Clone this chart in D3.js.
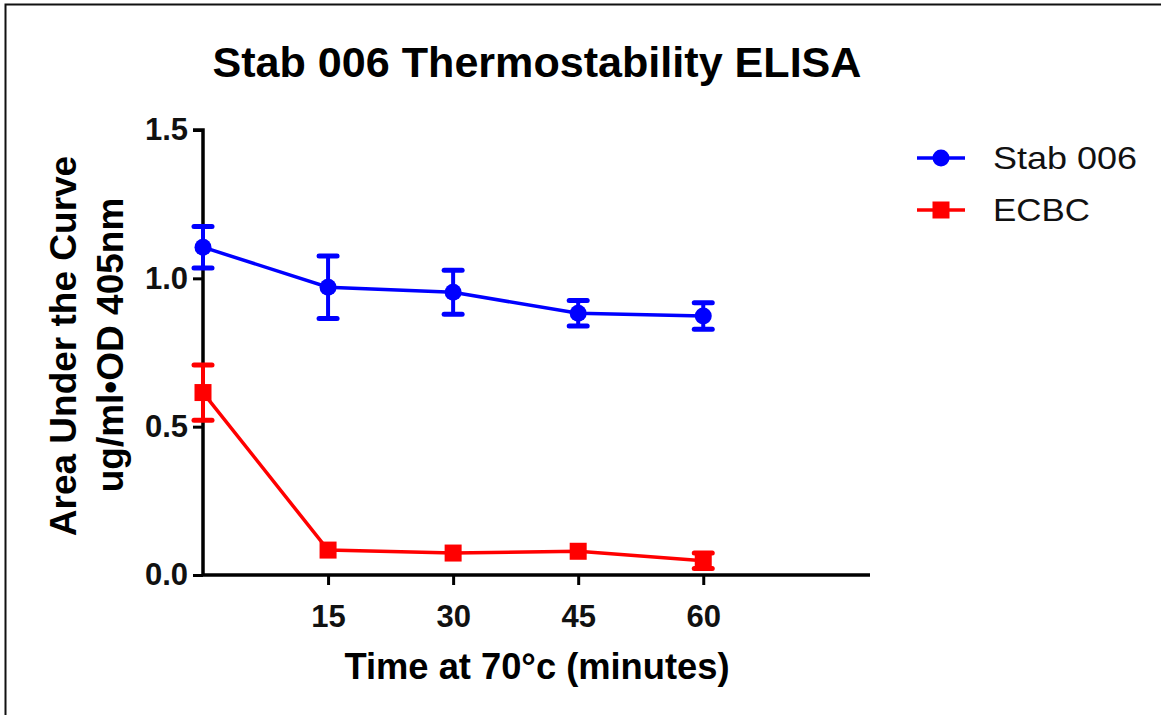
<!DOCTYPE html>
<html>
<head>
<meta charset="utf-8">
<script src="https://cdn.jsdelivr.net/npm/d3@7"></script>
<style>
  html, body { margin: 0; padding: 0; background: #fff; }
  svg { display: block; font-family: "Liberation Sans", Arial, sans-serif; }
</style>
</head>
<body>
<svg id="chart" width="1161" height="715"></svg>
<script>
// Incubation times (minutes at 70 °C)
const times = [0, 15, 30, 45, 60];
const xTicks = [15, 30, 45, 60];
const yTicks = [0, 0.5, 1.0, 1.5];

// Mean area under the curve and error (± SEM) per series
const stabMean = [1.105, 0.970, 0.953, 0.882, 0.873];
const stabErr  = [0.070, 0.105, 0.074, 0.043, 0.045];
const ecbcMean = [0.615, 0.084, 0.074, 0.080, 0.048];
const ecbcErr  = [0.093, 0.000, 0.000, 0.000, 0.026];

const seriesNames = ["Stab 006", "ECBC"];
const seriesColors = ["#0000ff", "#ff0000"];

const svg = d3.select("#chart");

// outer frame
svg.append("rect")
  .attr("x", 5.5).attr("y", 4.5)
  .attr("width", 1200).attr("height", 800)
  .attr("fill", "none").attr("stroke", "#111").attr("stroke-width", 2);

const x = d3.scaleLinear().domain([0, 80]).range([203, 870]);
const y = d3.scaleLinear().domain([0, 1.5]).range([575, 130]);

// title
svg.append("text")
  .attr("x", 537).attr("y", 77)
  .attr("text-anchor", "middle")
  .attr("font-weight", "bold").attr("font-size", 42)
  .attr("textLength", 649).attr("lengthAdjust", "spacingAndGlyphs")
  .text("Stab 006 Thermostability ELISA");

// y axis
const yAxis = svg.append("g")
  .attr("transform", `translate(${x(0)},0)`)
  .call(d3.axisLeft(y).tickValues(yTicks).tickFormat(d3.format(".1f")).tickSize(10).tickPadding(5));
yAxis.select(".domain").attr("stroke-width", 3.5).attr("d", `M-10,${y(1.5)}H0V${y(0)}`);
yAxis.selectAll(".tick line").attr("stroke-width", 3);
yAxis.selectAll(".tick text")
  .attr("font-size", 31).attr("font-weight", "bold").attr("fill", "#111")
  .attr("font-family", "Liberation Sans, Arial, sans-serif");

// x axis
const xAxis = svg.append("g")
  .attr("transform", `translate(0,${y(0)})`)
  .call(d3.axisBottom(x).tickValues(xTicks).tickSize(10).tickPadding(20));
xAxis.select(".domain").attr("stroke-width", 3.5).attr("d", `M${x(0)},0H${x(80)}`);
xAxis.selectAll(".tick line").attr("stroke-width", 3);
xAxis.selectAll(".tick text")
  .attr("font-size", 31).attr("font-weight", "bold").attr("fill", "#111")
  .attr("font-family", "Liberation Sans, Arial, sans-serif");

// axis titles
svg.append("text")
  .attr("transform", "translate(76,346) rotate(-90)")
  .attr("text-anchor", "middle")
  .attr("font-weight", "bold").attr("font-size", 37)
  .text("Area Under the Curve");
svg.append("text")
  .attr("transform", "translate(123,345) rotate(-90)")
  .attr("text-anchor", "middle")
  .attr("font-weight", "bold").attr("font-size", 37)
  .text("ug/ml\u2022OD 405nm");
svg.append("text")
  .attr("x", 537).attr("y", 679)
  .attr("text-anchor", "middle")
  .attr("font-weight", "bold").attr("font-size", 37)
  .attr("textLength", 385).attr("lengthAdjust", "spacingAndGlyphs")
  .text("Time at 70\u00b0c (minutes)");

const series = [
  { name: seriesNames[0], color: seriesColors[0], mean: stabMean, err: stabErr, shape: "circle", width: 144 },
  { name: seriesNames[1], color: seriesColors[1], mean: ecbcMean, err: ecbcErr, shape: "square", width: 97 }
];

const line = d3.line().x(d => x(d.t)).y(d => y(d.m));

function drawMarker(g, shape, cx, cy, color) {
  if (shape === "circle") {
    g.append("circle").attr("cx", cx).attr("cy", cy).attr("r", 8.5).attr("fill", color);
  } else {
    g.append("rect").attr("x", cx - 8.5).attr("y", cy - 8.5)
      .attr("width", 17).attr("height", 17).attr("fill", color);
  }
}

series.forEach(s => {
  const pts = times.map((t, i) => ({ t, m: s.mean[i], e: s.err[i] }));
  const g = svg.append("g");
  g.append("path").datum(pts).attr("d", line)
    .attr("fill", "none").attr("stroke", s.color).attr("stroke-width", 3.5);
  // error bars
  pts.filter(p => p.e > 0).forEach(p => {
    const cx = x(p.t);
    g.append("line").attr("x1", cx).attr("x2", cx)
      .attr("y1", y(p.m + p.e)).attr("y2", y(p.m - p.e))
      .attr("stroke", s.color).attr("stroke-width", 4);
    [p.m + p.e, p.m - p.e].forEach(v => {
      g.append("line").attr("x1", cx - 9).attr("x2", cx + 9)
        .attr("y1", y(v)).attr("y2", y(v))
        .attr("stroke", s.color).attr("stroke-width", 5).attr("stroke-linecap", "round");
    });
  });
  pts.forEach(p => drawMarker(g, s.shape, x(p.t), y(p.m), s.color));
});

// legend
const legend = svg.append("g");
series.forEach((s, i) => {
  const ly = 158 + i * 52;
  legend.append("line").attr("x1", 917).attr("x2", 965).attr("y1", ly).attr("y2", ly)
    .attr("stroke", s.color).attr("stroke-width", 3.5);
  drawMarker(legend, s.shape, 941, ly, s.color);
  legend.append("text").attr("x", 993).attr("y", ly + 11)
    .attr("font-size", 32).attr("fill", "#111")
    .attr("textLength", s.width).attr("lengthAdjust", "spacingAndGlyphs")
    .text(s.name);
});
</script>
</body>
</html>
